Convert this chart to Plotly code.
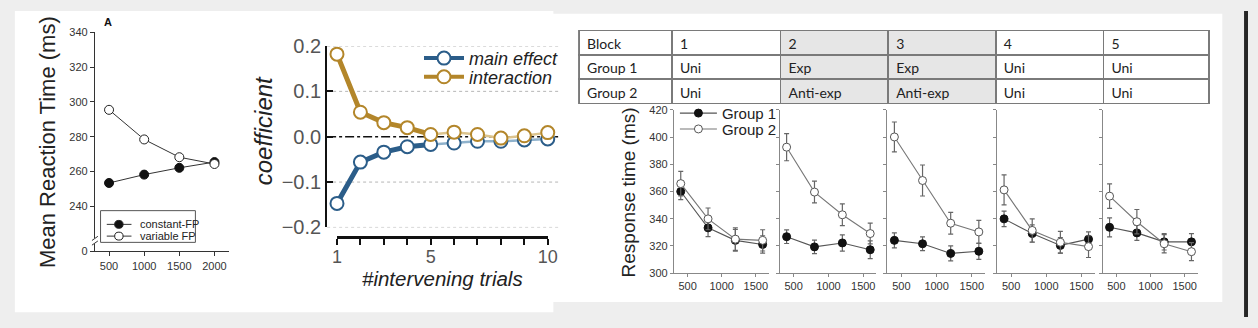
import plotly.graph_objects as go

# ---------------- Panel A: mean RT by foreperiod ----------------
fp_ms = [500, 1000, 1500, 2000]
rt_constant = [253.4, 258.2, 262.1, 265.4]
rt_variable = [295.4, 278.4, 268.2, 264.3]
rt_ticks = [240, 260, 280, 300, 320, 340]
legend_a = ["constant-FP", "variable FP"]

# ---------------- Panel B: regression coefficients ----------------
lag = [1, 2, 3, 4, 5, 6, 7, 8, 9, 10]
coef_main = [-0.147, -0.056, -0.034, -0.022, -0.017, -0.014, -0.010, -0.010, -0.007, -0.005]
coef_inter = [0.182, 0.054, 0.031, 0.020, 0.005, 0.010, 0.005, -0.003, 0.002, 0.009]
coef_ticks = [-0.2, -0.1, 0.0, 0.1, 0.2]
lag_labels = ["1", "", "", "", "5", "", "", "", "", "10"]

# ---------------- Panel C: block design and response times ----------------
block_header = ["Block", "1", "2", "3", "4", "5"]
block_cells = [["Group 1", "Group 2"], ["Uni", "Uni"], ["Exp", "Anti-exp"],
               ["Exp", "Anti-exp"], ["Uni", "Uni"], ["Uni", "Uni"]]
fp_block = [400, 800, 1200, 1600]
g1_rt = [[360.0, 333.3, 324.1, 321.1],
         [326.8, 319.3, 322.2, 317.2],
         [324.1, 321.6, 314.5, 316.1],
         [339.9, 329.1, 320.4, 325.0],
         [333.7, 329.6, 323.0, 323.0]]
g1_err = [[6.0, 6.5, 8.0, 6.4],
          [5.0, 5.0, 6.0, 6.5],
          [5.5, 5.0, 5.5, 6.0],
          [5.7, 6.4, 5.7, 5.3],
          [7.0, 5.5, 6.0, 6.0]]
g2_rt = [[365.8, 339.9, 325.0, 324.1],
         [392.6, 359.6, 342.9, 329.1],
         [400.1, 368.1, 336.7, 330.3],
         [361.2, 331.4, 322.7, 319.5],
         [356.6, 337.8, 321.6, 315.8]]
g2_err = [[9.0, 8.0, 8.3, 7.8],
          [10.0, 8.0, 8.0, 7.6],
          [11.0, 11.4, 8.0, 8.5],
          [11.0, 8.5, 8.0, 8.0],
          [9.0, 9.0, 6.7, 6.6]]
rt_block_ticks = [300, 320, 340, 360, 380, 400, 420]
fp_block_ticks = [500, 1000, 1500]

W, H = 1258, 328


def px(x):
    return x / W


def py(y):
    return 1 - y / H


SANS = "Liberation Sans"
fig = go.Figure()
layout = dict(
    width=W, height=H, autosize=False, margin=dict(l=0, r=0, t=0, b=0, pad=0),
    paper_bgcolor="#eeeeee", plot_bgcolor="rgba(0,0,0,0)",
    font=dict(family=SANS, color="#333"),
    showlegend=True,
)
shapes = []
annotations = []


def label(text, x, y, size, color="#222", angle=0, xanchor="center", style="normal", weight="normal"):
    annotations.append(dict(text=text, xref="paper", yref="paper", x=px(x), y=py(y),
                            xanchor=xanchor, yanchor="middle", textangle=angle, showarrow=False,
                            font=dict(size=size, color=color, style=style, weight=weight)))


# card backgrounds
shapes += [
    dict(type="rect", xref="paper", yref="paper", x0=px(10), x1=px(555), y0=py(323), y1=py(0),
         fillcolor="white", line_width=0, layer="below"),
    dict(type="rect", xref="paper", yref="paper", x0=px(553), x1=px(1232), y0=py(312), y1=py(3),
         fillcolor="white", line_width=0, layer="below"),
    dict(type="rect", xref="paper", yref="paper", x0=px(1254), x1=px(1258), y0=0, y1=1,
         fillcolor="#262626", line_width=0, layer="below"),
]

# ---------------- Panel A ----------------
a_floor = 214.1  # bottom of the broken axis, labelled 0
fig.add_trace(go.Scatter(x=fp_ms, y=rt_constant, mode="lines+markers", name=legend_a[0],
                         line=dict(color="#333", width=1), showlegend=False,
                         marker=dict(symbol="circle", size=9, color="#111", line=dict(color="#111", width=1)),
                         xaxis="x", yaxis="y", cliponaxis=False))
fig.add_trace(go.Scatter(x=fp_ms, y=rt_variable, mode="lines+markers", name=legend_a[1],
                         line=dict(color="#333", width=1), showlegend=False,
                         marker=dict(symbol="circle", size=9, color="white", line=dict(color="#222", width=1)),
                         xaxis="x", yaxis="y", cliponaxis=False))
layout["xaxis"] = dict(domain=[px(91), px(227)], range=[299, 2211], anchor="y",
                       tickvals=fp_ms, ticks="outside", ticklen=4, tickcolor="#333",
                       showline=True, linecolor="#333", linewidth=1, showgrid=False, zeroline=False,
                       tickfont=dict(size=11, color="#333"))
layout["yaxis"] = dict(domain=[py(257.7), py(22.7)], range=[a_floor, 340], anchor="x",
                       tickvals=[a_floor] + rt_ticks, ticktext=["0"] + [str(t) for t in rt_ticks],
                       ticks="outside", ticklen=4, tickcolor="#333",
                       showline=True, linecolor="#333", linewidth=1, showgrid=False, zeroline=False,
                       tickfont=dict(size=11, color="#333"))
# axis break marks
shapes += [
    dict(type="rect", xref="paper", yref="paper", x0=px(86), x1=px(96), y0=py(249.5), y1=py(243.5),
         fillcolor="white", line_width=0),
    dict(type="line", xref="paper", yref="paper", x0=px(88), x1=px(94), y0=py(246), y1=py(241.5),
         line=dict(color="#333", width=1)),
    dict(type="line", xref="paper", yref="paper", x0=px(88), x1=px(94), y0=py(251), y1=py(246.5),
         line=dict(color="#333", width=1)),
]
# legend box for panel A
shapes.append(dict(type="rect", xref="paper", yref="paper", x0=px(96.7), x1=px(192.7), y0=py(248),
                   y1=py(214), fillcolor="white", line=dict(color="#555", width=1)))
for k, (fill, row_y) in enumerate([("#111", 228.7), ("white", 241.3)]):
    shapes.append(dict(type="line", xref="paper", yref="paper", x0=px(103), x1=px(128),
                       y0=py(row_y), y1=py(row_y), line=dict(color="#333", width=1)))
    shapes.append(dict(type="circle", xref="paper", yref="paper", x0=px(111), x1=px(119.5),
                       y0=py(row_y + 4.25), y1=py(row_y - 4.25), fillcolor=fill,
                       line=dict(color="#222", width=1)))
    label(legend_a[k], 135, row_y, 11, xanchor="left")
label("Mean Reaction Time (ms)", 43, 140, 22, angle=-90)
label("A", 104, 12, 11, color="#111", weight="bold")

# ---------------- Panel B ----------------
BLUE, GOLD = "#2b5d89", "#b3862a"
BLUE_L, GOLD_L = "#8fb2cc", "#dcc48e"
for vals, dark, light in [(coef_main, BLUE, BLUE_L), (coef_inter, GOLD, GOLD_L)]:
    fig.add_trace(go.Scatter(x=lag[4:], y=vals[4:], mode="lines", line=dict(color=light, width=2.5),
                             xaxis="x2", yaxis="y2", showlegend=False, hoverinfo="skip"))
    fig.add_trace(go.Scatter(x=lag[:5], y=vals[:5], mode="lines", line=dict(color=dark, width=5),
                             xaxis="x2", yaxis="y2", showlegend=False, hoverinfo="skip"))
for vals, dark, name in [(coef_main, BLUE, "main effect"), (coef_inter, GOLD, "interaction")]:
    fig.add_trace(go.Scatter(x=lag, y=vals, mode="markers", name=name, showlegend=False,
                             marker=dict(size=13, color="white", line=dict(color=dark, width=2)),
                             xaxis="x2", yaxis="y2", cliponaxis=False))
for dark, name, leg, top in [(BLUE, "main effect", "legend2", 31), (GOLD, "interaction", "legend4", 51)]:
    fig.add_trace(go.Scatter(x=[None], y=[None], mode="lines+markers", name=name,
                             line=dict(color=dark, width=4),
                             marker=dict(size=13, color="white", line=dict(color=dark, width=2)),
                             xaxis="x2", yaxis="y2", legend=leg))
    layout[leg] = dict(x=px(419), y=py(top), xanchor="left", yanchor="top", itemwidth=40,
                       bgcolor="rgba(0,0,0,0)", font=dict(size=18, color="#222", style="italic"))

layout["xaxis2"] = dict(domain=[px(336), px(549.3)], range=[1, 10], anchor="free", position=py(242.7),
                        tickvals=lag, ticktext=lag_labels, ticks="outside", ticklen=6, tickwidth=2,
                        tickcolor="#111", showline=True, linecolor="#111", linewidth=2.5,
                        ticklabelstandoff=-4,
                        showgrid=False, zeroline=False, tickfont=dict(size=18, color="#555"))
layout["yaxis2"] = dict(domain=[py(232), py(37.5)], range=[-0.2, 0.2], anchor="free", position=px(325),
                        tickvals=coef_ticks, ticktext=["\u22120.2", "\u22120.1", "0.0", "0.1", "0.2"],
                        ticks="inside", ticklen=6, tickwidth=2, tickcolor="#111",
                        showline=True, linecolor="#111", linewidth=2,
                        showgrid=False, zeroline=False, tickfont=dict(size=20, color="#555"))
for t in coef_ticks:
    if t == 0:
        shapes.append(dict(type="line", xref="paper", yref="y2", x0=px(326), x1=px(560), y0=t, y1=t,
                           line=dict(color="#111", width=1.5, dash="dashdot"), layer="below"))
    else:
        shapes.append(dict(type="line", xref="paper", yref="y2", x0=px(326), x1=px(560), y0=t, y1=t,
                           line=dict(color="#b5b5b5", width=1, dash="dot"), layer="below"))
label("coefficient", 262, 128, 24, angle=-90, style="italic")
label("#intervening trials", 443, 287, 20.5, style="italic")

# ---------------- Panel C ----------------
col_fill = ["white", "white", "#e6e6e6", "#e6e6e6", "white", "white"]
fig.add_trace(go.Table(
    domain=dict(x=[px(581), px(1219.5)], y=[py(110), py(21)]),
    columnwidth=[94, 110, 109, 109, 109, 107],
    header=dict(values=block_header, align="left", height=24.3,
                fill=dict(color=col_fill), line=dict(color="#7a7a7a", width=1.5),
                font=dict(family="Lato", size=14, color="#222")),
    cells=dict(values=block_cells, align="left", height=24.3,
               fill=dict(color=col_fill), line=dict(color="#7a7a7a", width=1.5),
               font=dict(family="Lato", size=14, color="#222")),
))

sub_left = [677, 784, 893, 1004, 1111]
sub_right = [773, 882, 992, 1103, 1207]
for i in range(5):
    xa, ya = f"x{3 + i}", f"y{3 + i}"
    first = i == 0
    fig.add_trace(go.Scatter(x=fp_block, y=g1_rt[i], mode="lines+markers", name="Group 1",
                             error_y=dict(type="data", array=g1_err[i], color="#666", thickness=1.2, width=2.5),
                             line=dict(color="#555", width=1.1),
                             marker=dict(size=8, color="#111", line=dict(color="#111", width=1)),
                             xaxis=xa, yaxis=ya, legend="legend3", showlegend=first, cliponaxis=False))
    fig.add_trace(go.Scatter(x=fp_block, y=g2_rt[i], mode="lines+markers", name="Group 2",
                             error_y=dict(type="data", array=g2_err[i], color="#666", thickness=1.2, width=2.5),
                             line=dict(color="#777", width=1.1),
                             marker=dict(size=8, color="white", line=dict(color="#555", width=1)),
                             xaxis=xa, yaxis=ya, legend="legend5", showlegend=first, cliponaxis=False))
    layout[f"xaxis{3 + i}"] = dict(domain=[px(sub_left[i]), px(sub_right[i])], range=[300, 1690],
                                   anchor=ya, tickvals=fp_block_ticks, ticks="outside", ticklen=3,
                                   tickcolor="#888", showline=True, linecolor="#888", linewidth=1,
                                   showgrid=False, zeroline=False, tickfont=dict(size=11, color="#333"))
    layout[f"yaxis{3 + i}"] = dict(domain=[py(281), py(106)], range=[300, 420], anchor=xa,
                                   tickvals=rt_block_ticks, ticks="outside", ticklen=3, tickcolor="#888",
                                   showline=True, linecolor="#888", linewidth=1, showgrid=False,
                                   zeroline=False, showticklabels=first,
                                   tickfont=dict(size=11, color="#333"))
for leg, top in [("legend3", 92), ("legend5", 109)]:
    layout[leg] = dict(x=px(678), y=py(top), xanchor="left", yanchor="top", itemwidth=37,
                       bgcolor="rgba(0,0,0,0)", font=dict(size=15, color="#222"))
label("Response time (ms)", 632, 194, 19, angle=-90)

layout["shapes"] = shapes
layout["annotations"] = annotations
fig.update_layout(**layout)
fig.write_html("out.html")
